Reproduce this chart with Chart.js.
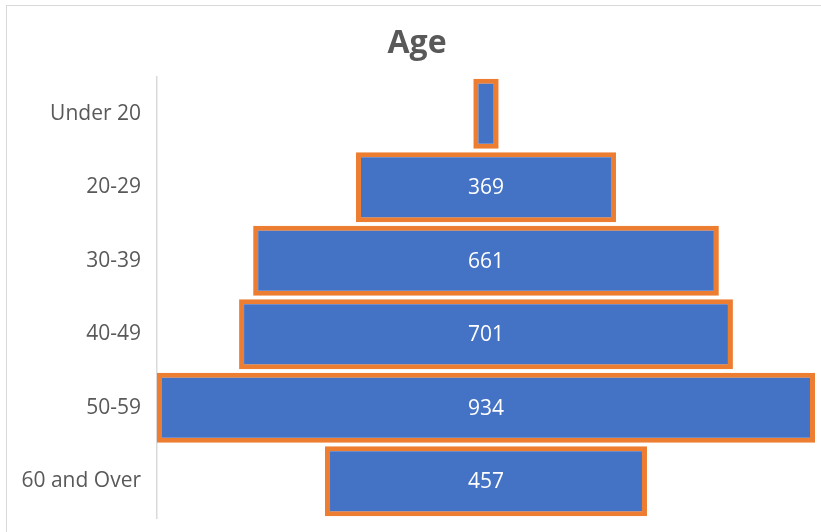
<!DOCTYPE html>
<html>
<head>
<meta charset="utf-8">
<script src="https://cdn.jsdelivr.net/npm/chart.js@4/dist/chart.umd.min.js"></script>
<style>
  html, body { margin: 0; padding: 0; background: #fff; }
  #wrap { width: 821px; height: 532px; position: relative; }
</style>
</head>
<body>
<div id="wrap"><canvas id="c" width="821" height="532"></canvas></div>
<script>
const categories = ["Under 20", "20-29", "30-39", "40-49", "50-59", "60 and Over"];
const counts = [36, 369, 661, 701, 934, 457];
const chartTitle = "Age";

const maxCount = Math.max(...counts);
const floating = counts.map(v => [-v / 2, v / 2]);

const framePlugin = {
  id: 'frame',
  beforeDraw(chart) {
    const ctx = chart.ctx;
    ctx.save();
    ctx.fillStyle = '#ffffff';
    ctx.fillRect(0, 0, chart.width, chart.height);
    ctx.strokeStyle = '#d9d9d9';
    ctx.lineWidth = 1;
    ctx.strokeRect(6.5, 5.5, 1000, 1000);
    ctx.fillStyle = '#595959';
    ctx.font = 'bold 32px "Open Sans"';
    ctx.textAlign = 'center';
    ctx.textBaseline = 'middle';
    ctx.fillText(chartTitle, 417, 44);
    ctx.restore();
  }
};

const labelPlugin = {
  id: 'barLabels',
  afterDatasetsDraw(chart) {
    const ctx = chart.ctx;
    const meta = chart.getDatasetMeta(0);
    ctx.save();
    ctx.font = '21px "Open Sans"';
    ctx.fillStyle = '#ffffff';
    ctx.textAlign = 'center';
    ctx.textBaseline = 'middle';
    meta.data.forEach((el, i) => {
      const txt = String(counts[i]);
      const w = Math.abs(el.x - el.base);
      if (ctx.measureText(txt).width + 12 > w) return;
      ctx.fillText(txt, (el.x + el.base) / 2, el.y + 1);
    });
    ctx.restore();
  }
};

new Chart(document.getElementById('c'), {
  type: 'bar',
  data: {
    labels: categories,
    datasets: [{
      data: floating,
      backgroundColor: '#4472C4',
      borderColor: '#ED7D31',
      borderWidth: 5,
      borderSkipped: false,
      barPercentage: 0.955,
      categoryPercentage: 1.0
    }]
  },
  options: {
    indexAxis: 'y',
    responsive: false,
    animation: false,
    layout: { padding: { left: 0, right: 6, top: 77, bottom: 14 } },
    plugins: {
      legend: { display: false },
      tooltip: { enabled: false },
      title: { display: false }
    },
    scales: {
      x: {
        display: false,
        min: -maxCount / 2,
        max: maxCount / 2
      },
      y: {
        afterFit(scale) { scale.width = 157; scale.paddingTop = 0; scale.paddingBottom = 0; },
        grid: { display: false, drawTicks: false },
        border: { display: true, color: '#d9d9d9', width: 1.5 },
        ticks: {
          color: '#595959',
          padding: 16,
          font: { family: '"Open Sans"', size: 21 }
        }
      }
    }
  },
  plugins: [framePlugin, labelPlugin]
});
</script>
</body>
</html>
